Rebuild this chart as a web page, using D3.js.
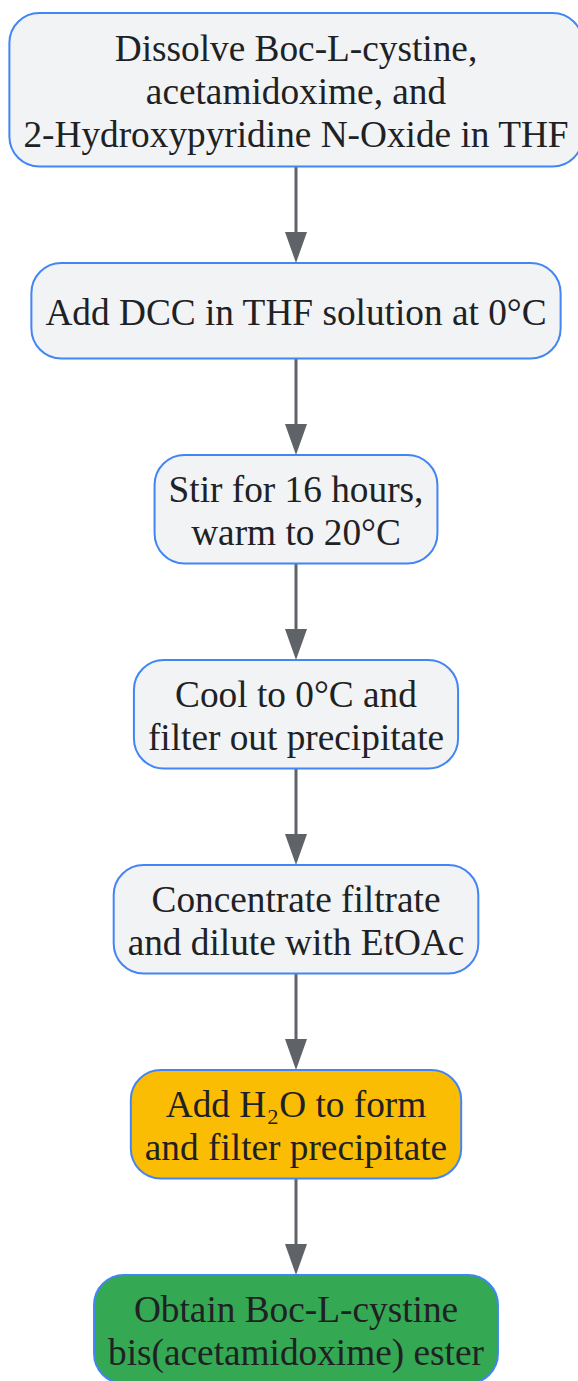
<!DOCTYPE html>
<html>
<head>
<meta charset="utf-8">
<script src="https://cdn.jsdelivr.net/npm/d3@7"></script>
<style>
  html, body { margin: 0; padding: 0; background: #ffffff; }
  svg { display: block; }
</style>
</head>
<body>
<svg id="chart" width="578" height="1381"></svg>
<script>
// ---- data ----
const stepLines = [
  ["Dissolve Boc-L-cystine,", "acetamidoxime, and", "2-Hydroxypyridine N-Oxide in THF"],
  ["Add DCC in THF solution at 0°C"],
  ["Stir for 16 hours,", "warm to 20°C"],
  ["Cool to 0°C and", "filter out precipitate"],
  ["Concentrate filtrate", "and dilute with EtOAc"],
  ["Add H₂O to form", "and filter precipitate"],
  ["Obtain Boc-L-cystine", "bis(acetamidoxime) ester"]
];
const stepKinds = ["normal", "normal", "normal", "normal", "normal", "highlight", "final"];
const kindFill = { normal: "#f1f3f4", highlight: "#fbbc04", final: "#34a853" };

// ---- layout ----
const svg = d3.select("#chart");
const cx = 296;
const fontSize = 37.3;
const lineH = 43;
const padX = 14;
const gap = 96.5;
const startY = 13;

const heights = stepLines.map(l => Math.max(95.5, l.length * 45 + 18.5));
const tops = [];
heights.reduce((acc, h, i) => { tops[i] = acc; return acc + h + gap; }, startY);

// measure text widths
const meas = svg.append("text").attr("font-family", "'Liberation Serif', 'Times New Roman', serif").attr("font-size", fontSize);
const widths = stepLines.map(lines => d3.max(lines, t => { meas.text(t); return meas.node().getComputedTextLength(); }));
meas.remove();

// arrows
const arrowG = svg.append("g");
for (let i = 0; i < stepLines.length - 1; i++) {
  const y1 = tops[i] + heights[i];
  const y2 = tops[i + 1];
  arrowG.append("line")
    .attr("x1", cx).attr("x2", cx)
    .attr("y1", y1).attr("y2", y2 - 28)
    .attr("stroke", "#5f6368").attr("stroke-width", 3);
  arrowG.append("path")
    .attr("d", `M${cx - 11},${y2 - 31} L${cx + 11},${y2 - 31} L${cx},${y2} Z`)
    .attr("fill", "#5f6368");
}

// nodes
const nodes = svg.append("g").selectAll("g")
  .data(stepLines.map((lines, i) => ({ lines, kind: stepKinds[i], top: tops[i], h: heights[i], w: widths[i] })))
  .join("g");

nodes.append("rect")
  .attr("x", d => cx - d.w / 2 - padX)
  .attr("y", d => d.top)
  .attr("width", d => d.w + padX * 2)
  .attr("height", d => d.h)
  .attr("rx", 30).attr("ry", 30)
  .attr("fill", d => kindFill[d.kind])
  .attr("stroke", "#4285f4")
  .attr("stroke-width", 2);

nodes.each(function(d) {
  const g = d3.select(this);
  const n = d.lines.length;
  const midY = d.top + d.h / 2;
  d.lines.forEach((t, j) => {
    g.append("text")
      .attr("x", cx)
      .attr("y", midY + (j - (n - 1) / 2) * lineH + 1.5)
      .attr("dy", "0.35em")
      .attr("text-anchor", "middle")
      .attr("font-family", "'Liberation Serif', 'Times New Roman', serif")
      .attr("font-size", fontSize)
      .attr("fill", "#202124")
      .text(t);
  });
});
</script>
</body>
</html>
